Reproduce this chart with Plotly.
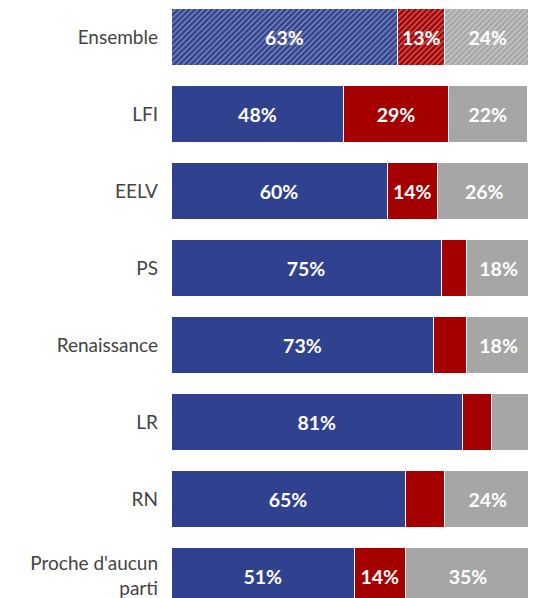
import plotly.graph_objects as go

# categories, top to bottom
partis = ["Ensemble", "LFI", "EELV", "PS", "Renaissance", "LR", "RN", "Proche d'aucun<br>parti"]
bleu = [63, 48, 60, 75, 73, 81, 65, 51]
rouge = [13, 29, 14, 7, 9, 8, 11, 14]
gris = [24, 22, 26, 18, 18, 11, 24, 35]

couleurs = {"bleu": "#30418f", "rouge": "#a50000", "gris": "#a6a6a6"}

# only the first bar (Ensemble) is hatched
hachures = ["/"] + [""] * (len(partis) - 1)


def etiquettes(vals):
    # small segments carry no label
    return [f"{v}%" if v >= 13 else "" for v in vals]


police = "Source Sans Pro, Lato, sans-serif"

fig = go.Figure()
for nom, vals in [("bleu", bleu), ("rouge", rouge), ("gris", gris)]:
    fig.add_trace(go.Bar(
        y=partis,
        x=vals,
        orientation="h",
        name=nom,
        text=etiquettes(vals),
        textposition="inside",
        insidetextanchor="middle",
        textangle=0,
        textfont=dict(color="white", size=19.5, family=police, weight="bold"),
        marker=dict(
            color=couleurs[nom],
            line=dict(color="white", width=1),
            pattern=dict(shape=hachures, fgcolor="white", fgopacity=0.4, size=4, solidity=0.35),
        ),
        width=0.75,
        hoverinfo="skip",
    ))

fig.update_layout(
    barmode="stack",
    width=536,
    height=598,
    margin=dict(l=163, r=13, t=0, b=0),
    plot_bgcolor="white",
    paper_bgcolor="white",
    showlegend=False,
    uniformtext=dict(minsize=8, mode="show"),
    font=dict(family=police, size=19, color="#444444"),
)
fig.update_xaxes(range=[0, 100], visible=False)
fig.update_yaxes(
    categoryorder="array",
    categoryarray=partis,
    range=[7.389, -0.377],
    showgrid=False,
    zeroline=False,
    showline=False,
    ticks="",
    ticklabelstandoff=12,
    tickfont=dict(size=19, color="#444444"),
)

fig.write_html("out.html")
